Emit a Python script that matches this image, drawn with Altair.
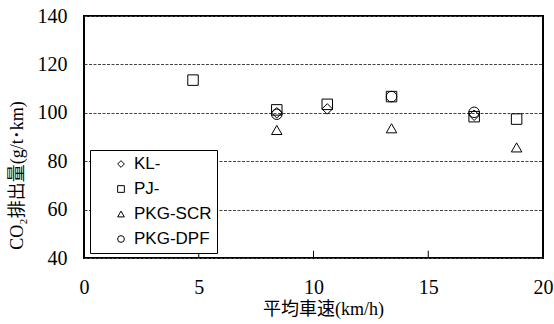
import altair as alt
import pandas as pd

# CO2 emission per ton-km versus mean vehicle speed, four vehicle types
series_names = ["KL-", "PJ-", "PKG-SCR", "PKG-DPF"]
series_shapes = ["diamond", "square", "triangle-up", "circle"]

kl_speed = [8.4, 10.6, 17.0]
kl_co2 = [100.0, 101.6, 99.0]

pj_speed = [4.75, 8.4, 10.6, 13.4, 17.0, 18.85]
pj_co2 = [113.5, 101.2, 103.5, 106.7, 98.4, 97.4]

scr_speed = [8.4, 13.4, 18.85]
scr_co2 = [92.9, 93.6, 85.7]

dpf_speed = [8.4, 13.4, 17.0]
dpf_co2 = [99.4, 106.7, 100.2]

x_ticks = [5, 10, 15]

rows = []
for name, xs, ys in [
    ("KL-", kl_speed, kl_co2),
    ("PJ-", pj_speed, pj_co2),
    ("PKG-SCR", scr_speed, scr_co2),
    ("PKG-DPF", dpf_speed, dpf_co2),
]:
    for sx, sy in zip(xs, ys):
        rows.append({"series": name, "speed": sx, "co2": sy})
df = pd.DataFrame(rows)

label_font = "Liberation Serif"
title_font = "Liberation Serif, Noto Sans CJK JP"

x_scale = alt.Scale(domain=[0, 20], nice=False, zero=False)
y_scale = alt.Scale(domain=[40, 140], nice=False, zero=False)

# one axis definition per direction, shared by both layers so they merge cleanly
x_axis = alt.Axis(
    title="平均車速(km/h)",
    values=[0, 5, 10, 15, 20],
    grid=False,
    ticks=False,
    domain=False,
    labelFont=label_font,
    labelFontSize=20,
    labelColor="black",
    labelPadding=19,
    labelFlush=False,
    titleFont=title_font,
    titleFontSize=18,
    titleFontWeight="normal",
    titleColor="black",
    titlePadding=3,
    titleX=239,
)
y_axis = alt.Axis(
    title="CO₂排出量(g/t･km)",
    values=[40, 60, 80, 100, 120, 140],
    grid=True,
    gridColor="#444444",
    gridDash=[3, 1.5],
    gridWidth=1,
    ticks=False,
    domain=False,
    labelFont=label_font,
    labelFontSize=20,
    labelColor="black",
    labelPadding=17,
    labelFlush=False,
    titleFont=title_font,
    titleFontSize=18,
    titleFontWeight="normal",
    titleColor="black",
    titlePadding=11,
    titleY=159,
)

points = alt.Chart(df).mark_point(
    filled=False, color="black", strokeWidth=1, size=110, opacity=1
).encode(
    x=alt.X("speed:Q", scale=x_scale, axis=x_axis),
    y=alt.Y("co2:Q", scale=y_scale, axis=y_axis),
    shape=alt.Shape(
        "series:N",
        scale=alt.Scale(domain=series_names, range=series_shapes),
        legend=alt.Legend(
            title=None,
            orient="none",
            legendX=6,
            legendY=134,
            padding=5.5,
            symbolOffset=17,
            symbolSize=45,
            symbolFillColor="white",
            symbolStrokeColor="black",
            symbolStrokeWidth=1,
            labelFont="Liberation Sans",
            labelFontSize=17,
            labelColor="black",
            labelOffset=4.5,
            rowPadding=7,
            strokeColor="black",
            fillColor="white",
        ),
    ),
)

# short inward tick marks along the bottom edge
ticks = alt.Chart(pd.DataFrame({"t": x_ticks})).mark_rule(
    color="black", strokeWidth=1
).encode(
    x=alt.X("t:Q", scale=x_scale, axis=x_axis),
    y=alt.YDatum(40, scale=y_scale, axis=y_axis),
    y2=alt.Y2Datum(43),
)

chart = alt.layer(points, ticks).properties(
    width=459,
    height=242,
    autosize=alt.AutoSizeParams(type="none"),
    padding={"left": 84, "top": 16, "right": 11, "bottom": 66},
    background="white",
).configure_view(
    stroke="black",
    strokeWidth=2,
)

chart.save("out.html", embed_options={"renderer": "svg", "actions": False})
